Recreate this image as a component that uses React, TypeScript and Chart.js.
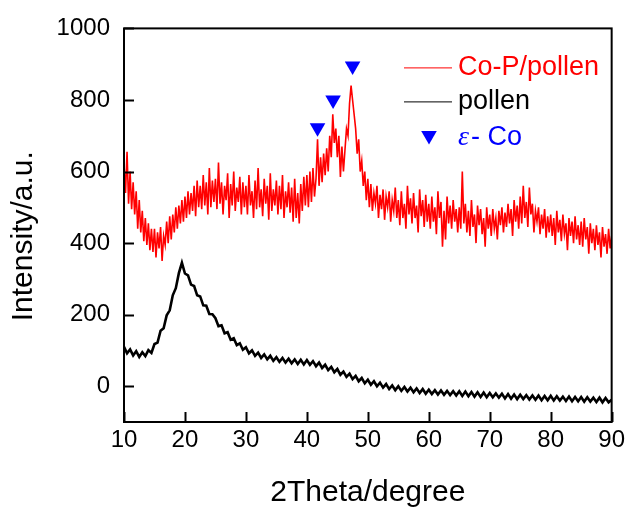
import { useEffect, useRef } from 'react';
import { Chart, registerables } from 'chart.js';

Chart.register(...registerables);

// 2Theta sampling of the two patterns
const X_START = 10;
const RED_STEP = 0.25;
const BLACK_STEP = 0.5;

// Co-P/pollen intensity, 10 -> 90 deg, step 0.25 (rows of 5 deg)
const coPPollen = [
  620, 540, 655, 510, 600, 495, 570, 480, 545, 440, 520, 430, 490, 405, 470, 395, 455, 380, 440, 375,
  440, 360, 430, 385, 445, 350, 420, 395, 460, 400, 475, 410, 480, 430, 500, 440, 505, 455, 520, 460,
  530, 470, 545, 480, 540, 490, 560, 475, 575, 500, 560, 495, 590, 505, 570, 480, 610, 500, 575, 515,
  580, 495, 625, 510, 570, 480, 560, 520, 595, 470, 565, 505, 600, 490, 555, 515, 585, 480, 570, 500,
  560, 480, 590, 505, 545, 470, 575, 495, 610, 500, 550, 475, 580, 510, 560, 465, 595, 490, 550, 505,
  575, 480, 560, 495, 590, 470, 545, 500, 570, 485, 555, 460, 580, 470, 540, 455, 565, 490, 585, 505,
  590, 500, 600, 515, 610, 530, 580, 690, 560, 640, 570, 650, 590, 665, 600, 700, 640, 760, 680, 720,
  640, 700, 585, 670, 600, 660, 720, 700, 790, 840, 800, 760, 720, 650, 690, 600, 630, 560, 600, 520,
  580, 500, 565, 490, 540, 510, 560, 470, 535, 495, 550, 465, 530, 500, 545, 460, 520, 490, 555, 470,
  520, 450, 545, 470, 510, 440, 560, 480, 525, 455, 540, 470, 505, 430, 550, 475, 520, 445, 535, 460,
  510, 440, 530, 460, 500, 425, 545, 470, 515, 390, 490, 410, 530, 455, 505, 440, 520, 460, 495, 430,
  500, 440, 600, 455, 510, 430, 490, 420, 520, 445, 480, 400, 505, 450, 495, 425, 470, 390, 500, 440,
  480, 420, 495, 440, 470, 410, 490, 450, 500, 430, 485, 445, 510, 455, 495, 420, 520, 460, 505, 440,
  530, 455, 560, 470, 515, 445, 555, 480, 510, 430, 490, 460, 500, 425, 480, 440, 495, 415, 475, 430,
  480, 420, 470, 395, 490, 430, 465, 405, 480, 425, 455, 380, 470, 420, 460, 400, 475, 410, 450, 395,
  460, 390, 470, 410, 445, 370, 455, 400, 440, 380, 450, 395, 430, 360, 445, 390, 425, 370, 440, 385,
  420,
];

// pollen intensity, 10 -> 90 deg, step 0.5 (rows of 5 deg)
const pollen = [
  110, 92, 103, 86, 98, 82, 95, 84, 101, 93,
  118, 122, 155, 162, 198, 212, 254, 274, 316, 345,
  315, 310, 284, 280, 254, 251, 226, 225, 202, 201,
  190, 168, 170, 148, 151, 130, 134, 115, 120, 102,
  109, 92, 100, 85, 94, 79, 89, 75, 85, 71,
  81, 68, 79, 66, 77, 64, 75, 62, 74, 61,
  73, 60, 70, 56, 66, 51, 60, 45, 54, 39,
  48, 32, 41, 26, 35, 20, 29, 14, 23, 8,
  18, 4, 14, 0, 10, -4, 6, -8, 2, -11,
  0, -13, -2, -15, -4, -17, -6, -19, -8, -21,
  -10, -22, -11, -23, -12, -24, -13, -25, -14, -26,
  -14, -27, -15, -28, -16, -29, -17, -30, -18, -31,
  -19, -31, -20, -32, -21, -34, -22, -35, -23, -36,
  -24, -36, -25, -37, -26, -38, -26, -39, -27, -39,
  -27, -40, -28, -40, -29, -41, -29, -42, -30, -42,
  -30, -43, -31, -43, -32, -44, -32, -45, -33, -45,
  -38,
];

// epsilon-Co peak markers
const peakTwoTheta = [41.75, 44.3, 47.5];
const peakIntensity = [722, 800, 895];

const xTicks = [10, 20, 30, 40, 50, 60, 70, 80, 90];
const yTicks = [0, 200, 400, 600, 800, 1000];
const seriesNames = ['Co-P/pollen', 'pollen', 'ε- Co'];

const FONT = '"Liberation Sans", Arial, sans-serif';

const decor = {
  id: 'decor',
  afterDatasetsDraw(chart: any) {
    const { ctx, chartArea: a, scales } = chart;
    ctx.save();
    // frame
    ctx.strokeStyle = '#000';
    ctx.lineWidth = 2;
    ctx.strokeRect(a.left, a.top, a.right - a.left, a.bottom - a.top);
    // inward ticks
    const tl = 10;
    ctx.lineWidth = 2;
    scales.x.ticks.forEach((t: any) => {
      const px = Math.round(scales.x.getPixelForValue(t.value)) + 0.5;
      ctx.beginPath();
      ctx.moveTo(px, a.bottom);
      ctx.lineTo(px, a.bottom - tl);
      ctx.stroke();
    });
    scales.y.ticks.forEach((t: any) => {
      const py = Math.round(scales.y.getPixelForValue(t.value)) + 0.5;
      ctx.beginPath();
      ctx.moveTo(a.left, py);
      ctx.lineTo(a.left + tl, py);
      ctx.stroke();
    });
    // axis titles
    ctx.fillStyle = '#000';
    ctx.font = `30px ${FONT}`;
    ctx.textAlign = 'center';
    ctx.textBaseline = 'middle';
    ctx.fillText('2Theta/degree', (a.left + a.right) / 2, 493);
    ctx.save();
    ctx.translate(24, (a.top + a.bottom) / 2 + 11);
    ctx.rotate(-Math.PI / 2);
    ctx.fillText('Intensity/a.u.', 0, 0);
    ctx.restore();

    // legend
    const lx0 = a.left + 280;
    const lx1 = a.left + 328;
    const tx = a.left + 334;
    const rows = [a.top + 39, a.top + 73, a.top + 109];
    ctx.textAlign = 'left';
    ctx.font = `27px ${FONT}`;
    ctx.lineWidth = 1;
    ctx.strokeStyle = '#ff0000';
    ctx.beginPath();
    ctx.moveTo(lx0, rows[0] + 0.5);
    ctx.lineTo(lx1, rows[0] + 0.5);
    ctx.stroke();
    ctx.fillStyle = '#ff0000';
    ctx.fillText(seriesNames[0], tx, rows[0]);
    ctx.strokeStyle = '#000';
    ctx.beginPath();
    ctx.moveTo(lx0, rows[1] + 0.5);
    ctx.lineTo(lx1, rows[1] + 0.5);
    ctx.stroke();
    ctx.fillStyle = '#000';
    ctx.fillText(seriesNames[1], tx, rows[1]);
    // triangle
    const cx = (lx0 + lx1) / 2 + 1;
    const cy = rows[2] - 2;
    const r = 9;
    ctx.fillStyle = '#0000ff';
    ctx.beginPath();
    ctx.moveTo(cx - r * Math.sin(Math.PI / 3), cy - r / 2);
    ctx.lineTo(cx + r * Math.sin(Math.PI / 3), cy - r / 2);
    ctx.lineTo(cx, cy + r);
    ctx.closePath();
    ctx.fill();
    const [eps, rest] = [seriesNames[2].slice(0, 1), seriesNames[2].slice(1)];
    ctx.font = `italic 28px "Liberation Serif", serif`;
    ctx.fillText(eps, tx, rows[2]);
    const w = ctx.measureText(eps).width;
    ctx.font = `27px ${FONT}`;
    ctx.fillText(rest, tx + w + 2, rows[2]);
    ctx.restore();
  },
};

export default function App() {
  const ref = useRef<HTMLCanvasElement | null>(null);
  useEffect(() => {
    if (!ref.current) return;
    const redData = coPPollen.map((v, i) => ({ x: X_START + i * RED_STEP, y: v }));
    const blackData = pollen.map((v, i) => ({ x: X_START + i * BLACK_STEP, y: v }));
    const peakData = peakTwoTheta.map((x, i) => ({ x, y: peakIntensity[i] }));
    const chart = new Chart(ref.current, {
      type: 'line',
      data: {
        datasets: [
          {
            label: seriesNames[2],
            data: peakData,
            showLine: false,
            pointStyle: 'triangle',
            rotation: 180,
            pointRadius: 9,
            pointBackgroundColor: '#0000ff',
            pointBorderColor: '#0000ff',
            pointBorderWidth: 0,
            order: 0,
          },
          {
            label: seriesNames[0],
            data: redData,
            borderColor: '#ff0000',
            borderWidth: 1.6,
            pointRadius: 0,
            tension: 0,
            order: 1,
          },
          {
            label: seriesNames[1],
            data: blackData,
            borderColor: '#000000',
            borderWidth: 2.6,
            pointRadius: 0,
            tension: 0,
            order: 2,
          },
        ],
      },
      options: {
        responsive: false,
        animation: false,
        devicePixelRatio: 1,
        layout: { padding: { left: 0, top: 28, right: 17, bottom: 0 } },
        plugins: { legend: { display: false }, tooltip: { enabled: false } },
        scales: {
          x: {
            type: 'linear',
            min: 10,
            max: 90,
            afterBuildTicks: (s: any) => {
              s.ticks = xTicks.map((v) => ({ value: v }));
            },
            afterFit: (s: any) => {
              s.height = 85;
            },
            grid: { display: false, drawTicks: false },
            border: { display: false },
            ticks: {
              color: '#000',
              padding: 4,
              maxRotation: 0,
              autoSkip: false,
              font: { family: FONT, size: 24 },
              callback: (v: any) => String(v),
            },
          },
          y: {
            type: 'linear',
            min: -100,
            max: 1000,
            afterBuildTicks: (s: any) => {
              s.ticks = yTicks.map((v) => ({ value: v }));
            },
            afterFit: (s: any) => {
              s.width = 124;
            },
            grid: { display: false, drawTicks: false },
            border: { display: false },
            ticks: {
              color: '#000',
              padding: 14,
              autoSkip: false,
              font: { family: FONT, size: 24 },
              callback: (v: any) => String(v),
            },
          },
        },
      },
      plugins: [decor],
    });
    return () => chart.destroy();
  }, []);
  return (
    <div style={{ position: 'absolute', left: 0, top: 0, width: 629, height: 507, background: '#fff' }}>
      <canvas ref={ref} width={629} height={507} style={{ display: 'block' }} />
    </div>
  );
}
